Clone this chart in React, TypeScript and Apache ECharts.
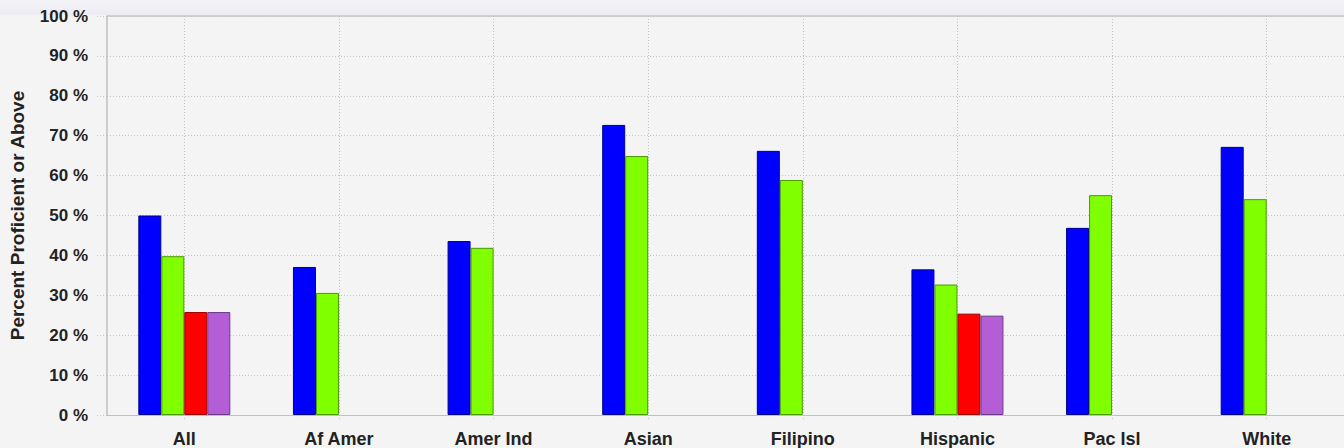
import React, { useEffect, useRef } from "react";
import * as echarts from "echarts";

const categories = ["All", "Af Amer", "Amer Ind", "Asian", "Filipino", "Hispanic", "Pac Isl", "White"];
const seriesBlue = [50, 37.1, 43.6, 72.7, 66.2, 36.5, 46.9, 67.2];
const seriesGreen = [39.8, 30.6, 41.9, 64.9, 58.9, 32.7, 55.1, 54.1];
const seriesRed = [25.8, null, null, null, null, 25.4, null, null];
const seriesPurple = [25.8, null, null, null, null, 24.9, null, null];
const yTicks = [0, 10, 20, 30, 40, 50, 60, 70, 80, 90, 100];

const colors = ["#0000ff", "#80ff00", "#ff0000", "#b35ed6"];
const borders = ["#00008a", "#4a9a00", "#9a0000", "#6e3a86"];

export default function App() {
  const ref = useRef<HTMLDivElement>(null);
  useEffect(() => {
    if (!ref.current) return;
    const chart = echarts.init(ref.current, undefined, { renderer: "svg" });
    const font = "Liberation Sans";
    const dotted = { color: "#c2c2c2", type: [1, 2] as any, width: 1 };
    const halfCats = categories.flatMap((c) => [c + "_a", c + "_b"]);
    const all = [seriesBlue, seriesGreen, seriesRed, seriesPurple];
    chart.setOption({
      animation: false,
      backgroundColor: "#f4f4f5",
      graphic: [
        {
          type: "rect",
          shape: { x: 0, y: 0, width: 1344, height: 15 },
          style: {
            fill: new echarts.graphic.LinearGradient(0, 0, 0, 1, [
              { offset: 0, color: "#f3f3f7" },
              { offset: 1, color: "#ececf5" },
            ]),
          },
          z: -10,
        },
        {
          type: "line",
          shape: { x1: 107, y1: 16, x2: 1344, y2: 16 },
          style: { stroke: "#c4c4cc", lineWidth: 1.5 },
        },
      ],
      grid: { left: 107, right: -7, top: 16, bottom: 33 },
      xAxis: [
        {
          type: "category",
          data: categories,
          boundaryGap: true,
          axisLine: { lineStyle: { color: "#c0c0c0", width: 1 } },
          axisTick: { show: true, alignWithLabel: true, length: 6, lineStyle: dotted },
          axisLabel: {
            color: "#222",
            fontFamily: font,
            fontWeight: "bold",
            fontSize: 18,
            margin: 15,
          },
          splitLine: { show: false },
        },
        {
          type: "category",
          data: halfCats,
          position: "bottom",
          boundaryGap: true,
          axisLine: { show: false },
          axisTick: { show: false },
          axisLabel: { show: false },
          splitLine: {
            show: true,
            interval: (i: number) => i % 2 === 1,
            lineStyle: dotted,
          },
        },
      ],
      yAxis: {
        type: "value",
        min: 0,
        max: 100,
        interval: 10,
        name: "Percent Proficient or Above",
        nameLocation: "middle",
        nameGap: 80,
        nameTextStyle: { color: "#222", fontFamily: font, fontWeight: "bold", fontSize: 19 },
        axisLine: { show: true, lineStyle: { color: "#c0c0c0", width: 1.5 } },
        axisTick: { show: true, length: 11, lineStyle: dotted },
        axisLabel: {
          color: "#222",
          fontFamily: font,
          fontWeight: "bold",
          fontSize: 17,
          margin: 19,
          formatter: (v: number) => (yTicks.includes(v) ? v + " %" : ""),
        },
        splitLine: { show: true, lineStyle: dotted },
      },
      series: all.map((d, i) => ({
        type: "bar",
        data: d,
        xAxisIndex: 0,
        barWidth: 23,
        barGap: "0%",
        itemStyle: { color: colors[i], borderColor: borders[i], borderWidth: 1 },
      })),
    });
    return () => chart.dispose();
  }, []);
  return (
    <div
      ref={ref}
      style={{ position: "fixed", left: 0, top: 0, width: 1344, height: 448 }}
    />
  );
}
